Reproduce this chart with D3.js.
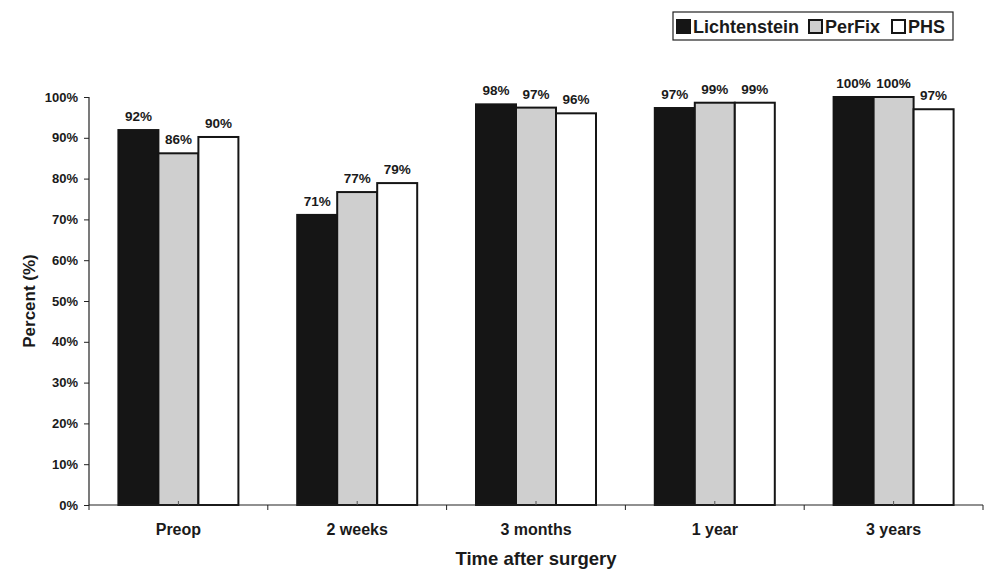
<!DOCTYPE html>
<html><head><meta charset="utf-8">
<script src="https://cdn.jsdelivr.net/npm/d3@7"></script>
<style>body{margin:0;background:#fff}svg{display:block}text{font-family:"Liberation Sans",Arial,sans-serif;font-weight:bold;fill:#1a1a1a}</style>
</head><body><svg id="c" width="984" height="570"></svg>
<script>
const categories = ["Preop", "2 weeks", "3 months", "1 year", "3 years"];
const seriesNames = ["Lichtenstein", "PerFix", "PHS"];
const lichtenstein = [91.9, 71.1, 98.2, 97.3, 100];
const perfix = [86.2, 76.7, 97.4, 98.6, 100];
const phs = [90.2, 78.9, 96.0, 98.6, 97.0];
const yTicks = [0, 10, 20, 30, 40, 50, 60, 70, 80, 90, 100];
const colors = ["#151515", "#cfcfcf", "#ffffff"];

const series = [lichtenstein, perfix, phs];
const svg = d3.select("#c");
const m = {l: 89, r: 983, t: 97, b: 505};
const x = d3.scaleBand().domain(categories).range([m.l, m.r]).paddingInner(0).paddingOuter(0);
const y = d3.scaleLinear().domain([0, 100]).range([m.b, m.t]);
const barW = 40;
const xs = d3.scaleBand().domain(seriesNames).range([0, barW * 3]);

// bars
categories.forEach((c, i) => {
  const cx = x(c) + x.bandwidth() / 2 - barW * 1.5;
  seriesNames.forEach((s, j) => {
    const v = series[j][i];
    svg.append("rect")
      .attr("x", cx + xs(s)).attr("y", y(v))
      .attr("width", barW).attr("height", y(0) - y(v))
      .attr("fill", colors[j]).attr("stroke", "#151515").attr("stroke-width", 2);
  });
});
// labels
categories.forEach((c, i) => {
  const cx = x(c) + x.bandwidth() / 2 - barW * 1.5;
  seriesNames.forEach((s, j) => {
    const v = series[j][i];
    svg.append("text")
      .attr("x", cx + xs(s) + barW / 2).attr("y", y(v) - 9)
      .attr("text-anchor", "middle").attr("font-size", 13.5)
      .text(Math.round(v) + "%");
  });
});

// y axis
const ya = svg.append("g").attr("transform", `translate(${m.l},0)`)
  .call(d3.axisLeft(y).tickValues(yTicks).tickSize(5).tickPadding(6).tickFormat(d => d + "%"));
ya.select(".domain").attr("stroke", "#222").attr("stroke-width", 1.2).attr("d", `M0,${m.b}V${m.t}`);
ya.selectAll(".tick line").attr("stroke", "#222");
ya.selectAll(".tick text").attr("font-size", 13).attr("font-family", "Liberation Sans, Arial, sans-serif").attr("font-weight", "bold").attr("fill", "#1a1a1a");

// x axis
const xa = svg.append("g").attr("transform", `translate(0,${m.b})`);
xa.append("line").attr("x1", m.l).attr("x2", m.r).attr("stroke", "#222").attr("stroke-width", 1.2);
const bounds = categories.map(c => x(c)).concat([m.r]);
xa.selectAll(".bt").data(bounds).join("line")
  .attr("x1", d => d).attr("x2", d => d).attr("y1", 0).attr("y2", 5).attr("stroke", "#222");
xa.selectAll(".ct").data(categories).join("line")
  .attr("x1", d => x(d) + x.bandwidth() / 2).attr("x2", d => x(d) + x.bandwidth() / 2)
  .attr("y1", 0).attr("y2", -4).attr("stroke", "#555");
xa.selectAll(".cl").data(categories).join("text")
  .attr("x", d => x(d) + x.bandwidth() / 2).attr("y", 30)
  .attr("text-anchor", "middle").attr("font-size", 16).text(d => d);

// titles
svg.append("text").attr("x", 536).attr("y", 565).attr("text-anchor", "middle")
  .attr("font-size", 18.5).text("Time after surgery");
svg.append("text").attr("transform", `translate(35,${(m.t + m.b) / 2}) rotate(-90)`)
  .attr("text-anchor", "middle").attr("font-size", 17).text("Percent (%)");

// legend
const lg = svg.append("g");
lg.append("rect").attr("x", 673).attr("y", 12).attr("width", 280).attr("height", 28)
  .attr("fill", "#fff").attr("stroke", "#222").attr("stroke-width", 1.2);
const lx = [677, 809, 892];
seriesNames.forEach((s, j) => {
  lg.append("rect").attr("x", lx[j]).attr("y", 20).attr("width", 13).attr("height", 13)
    .attr("fill", colors[j]).attr("stroke", "#151515").attr("stroke-width", 2);
  lg.append("text").attr("x", lx[j] + 16).attr("y", 33).attr("font-size", 18).text(s);
});
</script></body></html>
